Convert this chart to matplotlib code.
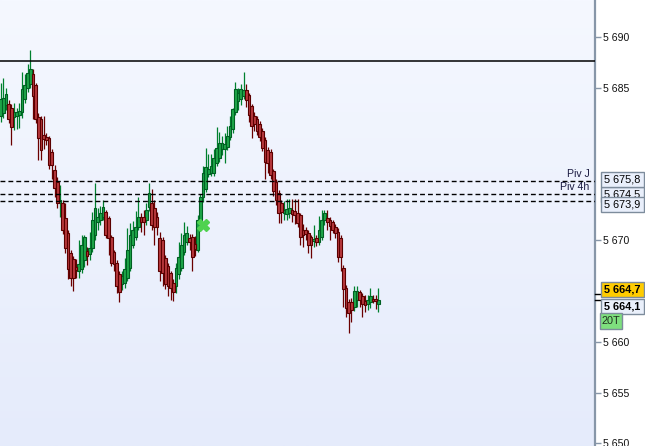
import matplotlib.pyplot as plt
import numpy as np
from matplotlib.patches import Rectangle
from matplotlib import transforms

plt.rcParams['font.family'] = ['Liberation Sans', 'DejaVu Sans']

# bougies (OHLC)
opens = [5682.2, 5682.5, 5683.3, 5683.4, 5683.0, 5682.1, 5682.2, 5682.3, 5682.6, 5683.9,
         5685.0, 5685.4, 5686.4, 5685.3, 5682.1, 5681.9, 5680.4, 5680.2, 5680.1, 5678.7,
         5676.9, 5675.7, 5673.7, 5673.7, 5672.2, 5670.7, 5668.7, 5668.1, 5667.4, 5667.0,
         5667.2, 5668.0, 5668.9, 5668.6, 5669.2, 5670.5, 5671.8, 5672.0, 5672.3, 5672.8,
         5672.2, 5670.3, 5668.8, 5667.8, 5666.7, 5665.7, 5665.8, 5666.3, 5667.3, 5669.5,
         5670.3, 5671.3, 5672.3, 5672.3, 5672.0, 5673.3, 5673.7, 5673.2, 5672.3, 5670.2,
         5670.0, 5668.2, 5667.5, 5666.8, 5665.8, 5665.5, 5666.7, 5667.3, 5668.8, 5669.8,
         5670.2, 5670.3, 5669.6, 5669.0, 5671.7, 5674.2, 5675.0, 5676.5, 5676.6, 5676.6,
         5677.6, 5678.1, 5679.0, 5679.0, 5679.2, 5680.2, 5680.9, 5682.6, 5683.7, 5683.9,
         5684.2, 5684.8, 5684.3, 5683.2, 5682.2, 5681.9, 5681.4, 5680.7, 5679.9, 5678.9,
         5678.7, 5676.8, 5675.7, 5674.6, 5673.7, 5672.7, 5672.6, 5672.7, 5673.0, 5672.9,
         5672.7, 5672.5, 5671.0, 5671.0, 5670.7, 5670.3, 5669.9, 5670.2, 5669.8, 5670.3,
         5672.0, 5672.2, 5672.0, 5671.8, 5671.3, 5670.8, 5670.2, 5667.3, 5665.3, 5663.9,
         5663.9, 5663.4, 5664.1, 5664.9, 5664.5, 5664.0, 5663.7, 5663.9, 5664.2, 5664.2,
         5663.7]
highs = [5685.5, 5686.0, 5685.0, 5683.8, 5683.4, 5683.5, 5683.0, 5683.5, 5686.6, 5686.4,
         5687.3, 5688.7, 5686.8, 5685.5, 5682.5, 5682.2, 5682.2, 5680.5, 5680.3, 5679.0,
         5677.4, 5676.2, 5675.4, 5674.0, 5673.7, 5671.0, 5669.0, 5668.4, 5668.1, 5670.0,
         5670.5, 5670.5, 5669.3, 5670.8, 5672.8, 5675.6, 5673.2, 5673.4, 5674.0, 5673.0,
         5672.4, 5670.5, 5669.0, 5668.0, 5667.0, 5667.0, 5668.2, 5671.2, 5671.7, 5671.9,
         5672.9, 5674.2, 5672.7, 5673.0, 5673.7, 5675.6, 5675.0, 5674.0, 5672.8, 5670.8,
         5670.3, 5668.5, 5667.8, 5667.0, 5666.2, 5667.8, 5669.8, 5670.7, 5671.8, 5671.4,
         5670.6, 5670.6, 5670.4, 5672.5, 5674.5, 5677.3, 5679.1, 5678.5, 5678.5, 5679.0,
         5681.1, 5680.6, 5680.3, 5680.5, 5681.2, 5682.2, 5683.0, 5685.6, 5685.0, 5685.4,
         5686.6, 5685.4, 5684.5, 5683.4, 5682.6, 5682.2, 5681.7, 5681.0, 5680.2, 5679.2,
         5679.0, 5677.0, 5676.0, 5674.9, 5674.0, 5673.9, 5674.1, 5674.1, 5674.1, 5674.1,
         5674.1, 5672.7, 5671.6, 5671.3, 5671.0, 5670.5, 5671.5, 5670.5, 5672.4, 5673.0,
         5673.0, 5673.0, 5672.3, 5672.0, 5671.6, 5671.2, 5670.5, 5667.6, 5665.6, 5664.2,
         5664.3, 5665.5, 5665.5, 5665.1, 5664.8, 5664.6, 5664.6, 5665.3, 5664.6, 5664.6,
         5665.3]
lows = [5681.6, 5682.0, 5682.8, 5681.5, 5679.4, 5680.8, 5680.9, 5681.0, 5682.0, 5683.5,
        5684.6, 5685.0, 5681.9, 5681.5, 5677.9, 5677.9, 5679.0, 5679.4, 5677.0, 5676.0,
        5674.2, 5673.2, 5672.3, 5670.6, 5668.7, 5666.2, 5665.5, 5665.0, 5666.3, 5666.3,
        5666.8, 5667.4, 5667.6, 5668.0, 5668.8, 5670.0, 5671.0, 5671.5, 5672.0, 5670.2,
        5668.5, 5667.5, 5667.0, 5664.8, 5663.9, 5665.1, 5665.3, 5666.0, 5667.0, 5669.2,
        5670.0, 5671.0, 5670.8, 5670.5, 5671.5, 5672.9, 5671.0, 5669.5, 5670.5, 5666.0,
        5665.5, 5665.2, 5664.5, 5664.1, 5664.0, 5664.8, 5666.2, 5667.0, 5668.5, 5669.5,
        5669.0, 5667.0, 5668.4, 5668.8, 5671.3, 5673.8, 5674.7, 5676.2, 5676.3, 5676.3,
        5677.3, 5677.7, 5678.4, 5677.6, 5678.9, 5679.9, 5680.5, 5682.3, 5682.8, 5683.3,
        5683.9, 5683.1, 5681.6, 5680.1, 5680.7, 5680.4, 5679.8, 5678.8, 5676.0, 5676.6,
        5676.0, 5674.3, 5673.5, 5671.7, 5671.7, 5672.0, 5672.0, 5672.2, 5671.8, 5671.6,
        5671.3, 5669.5, 5669.3, 5670.0, 5668.7, 5668.2, 5669.3, 5669.4, 5669.5, 5670.0,
        5671.5, 5671.0, 5670.0, 5670.7, 5670.2, 5667.9, 5667.0, 5663.4, 5662.4, 5660.9,
        5661.9, 5663.0, 5663.4, 5663.4, 5662.4, 5662.9, 5663.1, 5663.3, 5663.8, 5663.2,
        5662.9]
closes = [5683.9, 5684.0, 5684.4, 5681.9, 5681.1, 5682.6, 5682.6, 5682.7, 5684.9, 5685.3,
          5686.5, 5686.8, 5684.2, 5681.9, 5680.1, 5678.9, 5680.0, 5679.9, 5677.4, 5677.4,
          5675.1, 5673.7, 5674.0, 5671.0, 5669.2, 5667.2, 5666.3, 5666.3, 5667.1, 5667.7,
          5669.5, 5670.3, 5668.4, 5669.2, 5672.0, 5673.2, 5672.3, 5672.7, 5673.3, 5670.5,
          5670.2, 5667.8, 5667.7, 5665.5, 5664.9, 5666.5, 5667.2, 5669.0, 5670.5, 5671.0,
          5671.3, 5672.3, 5671.8, 5671.8, 5673.0, 5674.6, 5671.5, 5671.3, 5671.3, 5667.0,
          5666.8, 5665.7, 5665.5, 5665.3, 5664.9, 5667.3, 5668.3, 5669.5, 5670.5, 5670.7,
          5669.8, 5668.3, 5669.1, 5672.0, 5674.2, 5676.6, 5677.2, 5677.0, 5677.3, 5678.1,
          5679.1, 5679.6, 5679.6, 5679.5, 5680.3, 5681.2, 5682.9, 5684.9, 5684.5, 5684.9,
          5684.8, 5683.8, 5682.3, 5681.2, 5681.4, 5680.7, 5680.2, 5679.1, 5677.7, 5677.6,
          5676.4, 5674.8, 5674.0, 5672.7, 5672.8, 5673.0, 5673.1, 5673.2, 5672.6, 5672.5,
          5671.7, 5670.3, 5670.5, 5670.6, 5669.5, 5669.5, 5670.1, 5669.8, 5671.0, 5672.0,
          5672.7, 5671.8, 5671.4, 5671.0, 5670.7, 5668.3, 5668.3, 5665.2, 5663.3, 5662.8,
          5663.1, 5665.0, 5665.0, 5664.1, 5663.7, 5663.6, 5664.1, 5664.5, 5664.0, 5664.0,
          5664.1]

# niveaux
haut = 5687.6
pivots = [5675.8, 5674.5, 5673.9]
pivot_noms = ['Piv J', 'Piv 4h']
prix_ask = 5664.7
prix_dernier = 5664.1
yticks = [5650, 5655, 5660, 5670, 5685, 5690]
signal_x = 75
signal_y = 5671.5

opens = np.array(opens)
closes = np.array(closes)
highs = np.array(highs)
lows = np.array(lows)
x = np.arange(len(opens))
hausse = closes >= opens

y0, y1 = 5649.74, 5693.64
fig = plt.figure(figsize=(6.45, 4.46), dpi=100)
fig.patch.set_facecolor('white')
ax = fig.add_axes([0, 0, 595/645, 1])
ax.set_xlim(-0.2, 220.2)
ax.set_ylim(y0, y1)

# fond dégradé
grad = np.linspace(0, 1, 256).reshape(-1, 1)
c_top = np.array([245, 248, 255]) / 255
c_bot = np.array([229, 235, 251]) / 255
img = c_top + (c_bot - c_top) * grad[:, :, None]
ax.imshow(img, extent=[-0.2, 220.2, y0, y1], aspect='auto', origin='upper', zorder=0)

# mèches
ax.vlines(x[hausse], lows[hausse], highs[hausse], color='#00802e', lw=0.9, zorder=2)
ax.vlines(x[~hausse], lows[~hausse], highs[~hausse], color='#6a0000', lw=0.9, zorder=2)

# corps
h = np.maximum(np.abs(closes - opens), 0.12)
bas = np.minimum(opens, closes)
ax.bar(x[hausse], h[hausse], bottom=bas[hausse], width=1.0, color='#1fa64a',
       edgecolor='#005f22', lw=0.8, zorder=3)
ax.bar(x[~hausse], h[~hausse], bottom=bas[~hausse], width=1.0, color='#b8393d',
       edgecolor='#5a0000', lw=0.8, zorder=3)

# lignes
ax.axhline(haut, color='black', lw=1.1, zorder=4)
for p in pivots:
    ax.axhline(p, color='black', lw=1, dashes=(3.5, 2.2), zorder=4)

ax.plot(signal_x, signal_y, marker='X', ms=8, color='#4fd24f', mec='#4fd24f', zorder=5)

# axe de droite
for s in ['top', 'left', 'bottom']:
    ax.spines[s].set_visible(False)
ax.spines['right'].set_color('#8796a8')
ax.spines['right'].set_linewidth(1.6)
ax.set_xticks([])
ax.yaxis.tick_right()
ax.set_yticks(yticks)
ax.set_yticklabels([f'{v // 1000} {v % 1000:03d}' for v in yticks], fontsize=7.6, color='#111111')
ax.tick_params(axis='y', length=4, width=1, color='#8796a8', pad=2)

trans = transforms.blended_transform_factory(fig.transFigure, ax.transData)
upp = (y1 - y0) / 446  # unités par pixel


def fmt(v):
    s = f'{v:.1f}'.replace('.', ',')
    return s[0] + ' ' + s[1:]


def boite(prix, dy_px, texte, face, x0=601, x1=644, h_px=15, bold=False, tcol='black', z=10):
    # dy_px > 0 : décalage vers le bas
    cy = prix - dy_px * upp
    r = Rectangle((x0 / 645, cy - h_px / 2 * upp), (x1 - x0) / 645, h_px * upp,
                  transform=trans, facecolor=face, edgecolor='#7d8c9c', lw=1,
                  clip_on=False, zorder=z)
    ax.add_artist(r)
    ax.text((x0 + x1) / 2 / 645, cy, texte, transform=trans, ha='center', va='center',
            fontsize=7.8, color=tcol, fontweight='bold' if bold else 'normal',
            clip_on=False, zorder=z + 0.5)


boite(pivots[1], -0.3, fmt(pivots[1]), '#e9effb', z=10)
boite(pivots[0], -1.4, fmt(pivots[0]), '#e9effb', z=12)
boite(pivots[2], 3.5, fmt(pivots[2]), '#e9effb', z=12)
boite(prix_ask, -4.5, fmt(prix_ask), '#ffcc00', bold=True, z=12)
boite(prix_dernier, 6, fmt(prix_dernier), '#eaf0fb', bold=True, z=12)
boite(prix_dernier, 21, '20T', '#7ee07e', x0=600, x1=622, h_px=16, tcol='#203020', z=12)

# petites marques de prix
tr_ax = transforms.blended_transform_factory(ax.transAxes, ax.transData)
for p in [prix_ask, prix_dernier]:
    ax.plot([1.0, 1.0085], [p, p], transform=tr_ax, color='black', lw=1, clip_on=False, zorder=9)

ax.text(590 / 645, pivots[0] + 0.7, pivot_noms[0], ha='right', va='center', transform=trans,
        fontsize=7.6, color='#1a1a40', clip_on=False, zorder=8)
ax.text(589 / 645, pivots[1] + 0.75, pivot_noms[1], ha='right', va='center', transform=trans,
        fontsize=7.6, color='#1a1a40', clip_on=False, zorder=8)

fig.savefig('out.png', dpi=100, facecolor='white')
